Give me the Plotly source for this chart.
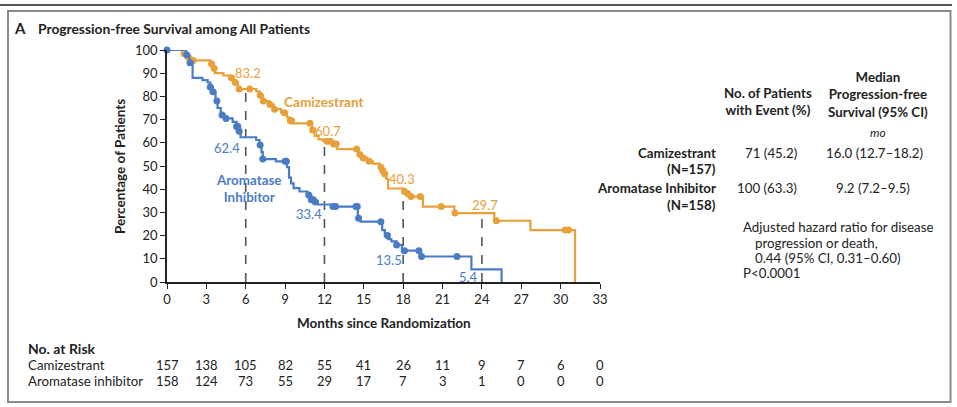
import numpy as np
import plotly.graph_objects as go

W, H = 957, 407

# ---------------- data ----------------
cam_t = [0, 1.2, 1.45, 1.85, 3.3, 3.5, 3.65, 4.3, 4.8, 5.1, 5.4, 6.8, 7.05, 7.3, 7.8, 8.15,
         8.7, 9.15, 9.35, 9.55, 11.05, 11.25, 11.55, 11.9, 12.6, 12.95, 14.6, 14.85, 15.25,
         15.7, 16.2, 16.4, 16.55, 16.7, 16.85, 18.1, 18.3, 18.55, 19.5, 21.9, 24.95, 27.7, 31.1]
cam_s = [100, 98.5, 97, 95.5, 94, 92, 90, 89, 88, 86, 83.2, 82.2, 80.5, 78, 76.5, 74.5,
         73, 71, 69.5, 68.4, 65.5, 63, 61.5, 60.7, 59.5, 57.3, 55, 53.5, 52,
         51, 49.5, 48, 46.5, 44.5, 40.3, 39, 38, 36.8, 32.5, 29.7, 26.4, 22.4, 0]
cam_cens = [1.3, 1.6, 2.0, 3.4, 3.6, 4.9, 5.2, 5.5, 6.3, 7.1, 7.35, 7.85, 8.2, 8.95, 9.4, 9.5,
            10.9, 11.1, 12.2, 12.45, 12.7, 12.9, 14.45, 14.7, 14.95, 15.4, 16.3, 16.45, 16.6,
            18.1, 18.35, 18.6, 19.3, 20.9, 21.95, 25.1, 30.35, 30.6]

ai_t = [0, 1.45, 1.7, 1.95, 2.7, 3.1, 3.3, 3.5, 3.7, 3.85, 4.1, 4.4, 5.0, 5.3, 5.45, 5.6,
        6.8, 7.05, 7.2, 7.3, 8.3, 9.15, 9.3, 9.45, 9.65, 10.1, 10.7, 11.0, 11.2, 11.5,
        12.6, 14.55, 14.75, 16.4, 16.6, 16.85, 17.1, 17.5, 17.9, 19.35, 23.2, 25.5]
ai_s = [100, 98, 94.5, 88, 87, 86, 84, 82, 78, 75, 72, 70.5, 69, 67, 65, 62.4,
        61.2, 59, 56, 53, 52, 49.5, 45, 42.5, 40.5, 39, 37.5, 35.5, 34.5, 33.4,
        32.5, 27.5, 26, 22.4, 20, 18.5, 17.5, 16, 13.5, 11, 5.4, 0]
ai_cens = [0, 1.5, 1.75, 3.3, 3.5, 3.8, 4.2, 4.5, 5.3, 5.4, 5.5, 7.1, 7.3, 9.0, 9.1,
           10.8, 11.0, 11.15, 11.3, 12.65, 12.85, 14.4, 14.5, 14.6, 16.3, 16.8, 17.5,
           18.1, 19.2, 19.4, 22.1]

land_t = [6, 12, 18, 24]
cam_land = [83.2, 60.7, 40.3, 29.7]
ai_land = [62.4, 33.4, 13.5, 5.4]

x_ticks = list(range(0, 34, 3))
y_ticks = list(range(0, 101, 10))
cam_risk = [157, 138, 105, 82, 55, 41, 26, 11, 9, 7, 6, 0]
ai_risk = [158, 124, 73, 55, 29, 17, 7, 3, 1, 0, 0, 0]

# ---------------- styles ----------------
ORANGE = "#E8A03A"
BLUE = "#4A7CC6"
FONT = "Lato"
TXT = "#222222"


def px(x):
    return x / W


def py(y):
    return (H - y) / H


def step_at(ts, ss, q):
    ts = np.asarray(ts)
    ss = np.asarray(ss)
    idx = np.searchsorted(ts, np.asarray(q), side="right") - 1
    return ss[idx]


fig = go.Figure()

fig.add_trace(go.Scatter(x=cam_t, y=cam_s, mode="lines", line=dict(color=ORANGE, width=2.2, shape="hv"),
                         hoverinfo="skip", showlegend=False, cliponaxis=False))
fig.add_trace(go.Scatter(x=cam_cens, y=step_at(cam_t, cam_s, cam_cens), mode="markers",
                         marker=dict(color=ORANGE, size=7), showlegend=False, cliponaxis=False))
fig.add_trace(go.Scatter(x=ai_t, y=ai_s, mode="lines", line=dict(color=BLUE, width=2.2, shape="hv"),
                         hoverinfo="skip", showlegend=False, cliponaxis=False))
fig.add_trace(go.Scatter(x=ai_cens, y=step_at(ai_t, ai_s, ai_cens), mode="markers",
                         marker=dict(color=BLUE, size=7), showlegend=False, cliponaxis=False))

shapes = []
for t, v in zip(land_t, cam_land):
    shapes.append(dict(type="line", xref="x", yref="y", x0=t, x1=t, y0=0, y1=v,
                       line=dict(color="#555555", width=1.6, dash="dash"), layer="below"))

shapes.append(dict(type="line", xref="paper", yref="paper", x0=0, x1=px(952), y0=py(5), y1=py(5),
                   line=dict(color="#555555", width=2)))
shapes.append(dict(type="rect", xref="paper", yref="paper", x0=px(8), x1=px(950.5), y0=py(11), y1=py(402),
                   line=dict(color="#8a8a8a", width=2)))

ann = []


def A(x, y, text, xref="paper", yref="paper", xa="center", ya="middle", size=13.3, color=TXT,
      angle=0, align="center"):
    ann.append(dict(x=x, y=y, xref=xref, yref=yref, xanchor=xa, yanchor=ya, text=text,
                    showarrow=False, textangle=angle, align=align,
                    font=dict(family=FONT, size=size, color=color)))


cam_off = [(0.2, 6.8), (0.25, 4.3), (-0.1, 4.0), (0.25, 3.5)]
ai_off = [(-1.4, -4.7), (-1.2, -4.1), (-1.1, -4.0), (-1.05, -3.2)]
for (t, v), (dx, dy) in zip(zip(land_t, cam_land), cam_off):
    A(t + dx, v + dy, f"{v}", xref="x", yref="y", size=13, color=ORANGE)
for (t, v), (dx, dy) in zip(zip(land_t, ai_land), ai_off):
    A(t + dx, v + dy, f"{v}", xref="x", yref="y", size=13, color=BLUE)

A(11.95, 77.8, "<b>Camizestrant</b>", xref="x", yref="y", size=13.6, color=ORANGE)
A(6.25, 40.5, "<b>Aromatase<br>Inhibitor</b>", xref="x", yref="y", size=13.4, color=BLUE)

A(px(12), py(28), "<b>A</b>", xa="left", size=15)
A(px(36), py(28), "<b>Progression-free Survival among All Patients</b>", xa="left", size=13.8)

A(px(120), py(166), "<b>Percentage of Patients</b>", size=13.5, angle=-90)
A(px(383.5), py(323), "<b>Months since Randomization</b>", size=13.5)

A(px(26), py(348), "<b>No. at Risk</b>", xa="left", size=14)
A(px(26), py(365), "Camizestrant", xa="left", size=13.3)
A(px(26), py(381), "Aromatase inhibitor", xa="left", size=13.3)
for t, a, b in zip(x_ticks, cam_risk, ai_risk):
    A(t, py(365), str(a), xref="x", size=13)
    A(t, py(381), str(b), xref="x", size=13)

A(px(768), py(101), "<b>No. of Patients<br>with Event (%)</b>")
A(px(878), py(94), "<b>Median<br>Progression-free<br>Survival (95% CI)</b>")
A(px(878), py(132), "<i>mo</i>", size=12)
A(px(718), py(153), "<b>Camizestrant</b>", xa="right")
A(px(718), py(169), "<b>(N=157)</b>", xa="right")
A(px(771), py(153), "71 (45.2)")
A(px(874), py(153), "16.0 (12.7–18.2)")
A(px(718), py(188), "<b>Aromatase Inhibitor</b>", xa="right")
A(px(718), py(205), "<b>(N=158)</b>", xa="right")
A(px(767), py(188), "100 (63.3)")
A(px(873), py(188), "9.2 (7.2–9.5)")
A(px(741), py(227), "Adjusted hazard ratio for disease", xa="left")
A(px(753), py(243), "progression or death,", xa="left")
A(px(753), py(258), "0.44 (95% CI, 0.31–0.60)", xa="left")
A(px(741), py(273), "P<0.0001", xa="left")

fig.update_layout(
    width=W, height=H, margin=dict(l=0, r=0, t=0, b=0, autoexpand=False),
    paper_bgcolor="white", plot_bgcolor="white",
    shapes=shapes, annotations=ann,
    xaxis=dict(domain=[px(167), px(600)], range=[0, 33], tickvals=x_ticks, ticks="outside",
               ticklen=5, tickcolor="#222", showline=True, linecolor="#222", linewidth=1.5,
               showgrid=False, zeroline=False, automargin=False,
               tickfont=dict(family=FONT, size=13, color=TXT)),
    yaxis=dict(domain=[py(282), py(50)], range=[0, 100], tickvals=y_ticks, ticks="outside",
               ticklen=5, tickcolor="#222", showline=True, linecolor="#222", linewidth=1.5,
               showgrid=False, zeroline=False, automargin=False,
               tickfont=dict(family=FONT, size=13, color=TXT)),
)

fig.write_html("out.html", config={"displayModeBar": False},
               post_script="document.body.style.margin='0';document.body.style.overflow='hidden';")
